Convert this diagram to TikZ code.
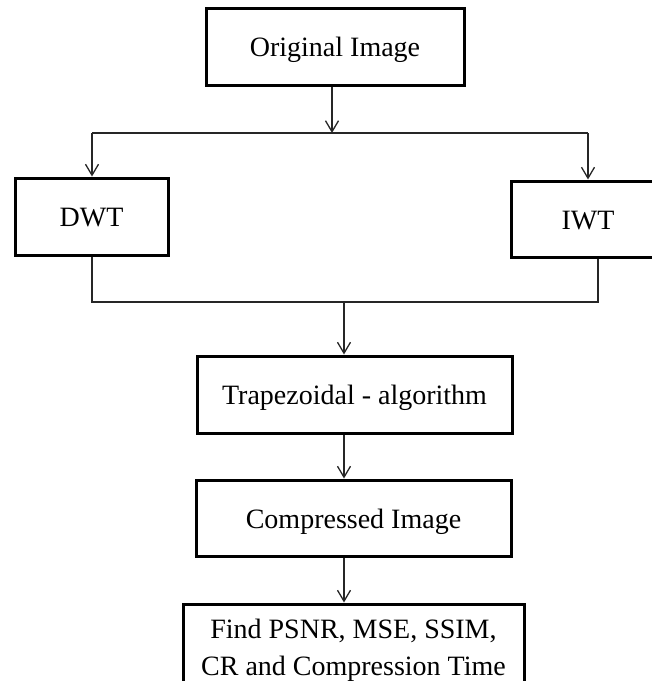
\documentclass[tikz,border=0pt]{standalone}
\usepackage{fontspec}
\setmainfont{Liberation Serif}
\usetikzlibrary{arrows.meta}
\begin{document}
\begin{tikzpicture}[x=1pt,y=-1pt,
  box/.style={draw=black,line width=3pt,rectangle,inner sep=0pt,
    font=\fontsize{28}{37}\selectfont,text height=20pt,text depth=0pt},
  tallbox/.style={draw=black,line width=3pt,rectangle,inner sep=0pt,
    font=\fontsize{28}{37}\selectfont,align=center},
  conn/.style={draw=black!85,line width=1.3pt},
  arr/.style={conn,-{Straight Barb[length=11pt,width=13pt,line width=1.3pt]}}]
\useasboundingbox (0,0) rectangle (652,681);
% boxes
\node[box,minimum width=258pt,minimum height=77pt] (orig) at (335,46.5) {Original Image};
\node[box,minimum width=153pt,minimum height=77pt] (dwt) at (91.5,216.5) {DWT};
\node[box,minimum width=154pt,minimum height=76pt] (iwt) at (588,219) {IWT};
\node[box,minimum width=315pt,minimum height=77pt] (trap) at (354.5,394.5) {Trapezoidal - algorithm};
\node[box,minimum width=315pt,minimum height=76pt] (comp) at (353.5,518) {Compressed Image};
\node[tallbox,minimum width=341pt,minimum height=92pt] (final) at (353.5,650) {Find PSNR, MSE, SSIM,\\CR and Compression Time};
% junction coordinates
\coordinate (j1) at (332,133);
\coordinate (hl) at (92,133);
\coordinate (hr) at (588,133);
\coordinate (bl) at (92,302);
\coordinate (br) at (598,302);
\coordinate (j2) at (344,302);
% connectors
\draw[arr] (orig.south -| j1) -- (j1);
\draw[conn] (hl) -- (hr);
\draw[arr] (hl) -- (dwt.north -| hl);
\draw[arr] (hr) -- (iwt.north -| hr);
\draw[conn] (dwt.south -| bl) -- (bl) -- (br) -- (iwt.south -| br);
\draw[arr] (j2) -- (trap.north -| j2);
\draw[arr] (trap.south -| j2) -- (comp.north -| j2);
\draw[arr] (comp.south -| j2) -- (final.north -| j2);
\end{tikzpicture}
\end{document}
